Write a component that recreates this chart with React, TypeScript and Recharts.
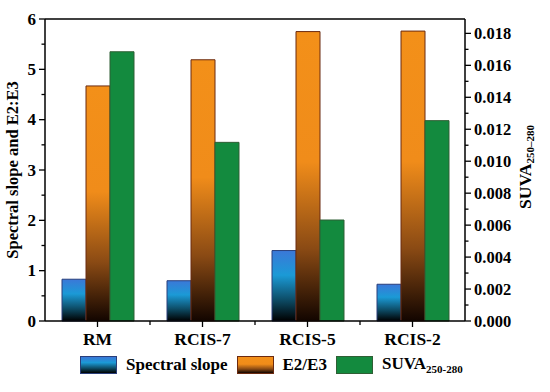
import { BarChart, Bar, XAxis, YAxis, ReferenceLine, Legend } from 'recharts';

const categories = ['RM', 'RCIS-7', 'RCIS-5', 'RCIS-2'];
const spectralSlope = [0.83, 0.8, 1.4, 0.73];
const e2e3 = [4.67, 5.19, 5.75, 5.76];
const suva = [0.01685, 0.01118, 0.00632, 0.01254];

const leftTicks = [0, 0.5, 1, 1.5, 2, 2.5, 3, 3.5, 4, 4.5, 5, 5.5, 6];
const rightTicks = [
  0, 0.001, 0.002, 0.003, 0.004, 0.005, 0.006, 0.007, 0.008, 0.009, 0.01, 0.011, 0.012, 0.013, 0.014,
  0.015, 0.016, 0.017, 0.018,
];

const FONT = "'Liberation Serif', 'Times New Roman', serif";
const TS = 6;
const TM = 3;

const data = categories.map((name, i) => ({
  name,
  slope: spectralSlope[i],
  e2e3: e2e3[i],
  suva: suva[i],
}));

const legendItems = [
  { key: 'slope', label: 'Spectral slope', bg: 'linear-gradient(#3b78d8, #1b9ad6 35%, #0d4c66 70%, #000)', border: '#2a3f7a' },
  { key: 'e2e3', label: 'E2/E3', bg: 'linear-gradient(#f39019, #f08c1a 45%, #8a4a14 75%, #120500)', border: '#6b2a10' },
  { key: 'suva', label: 'SUVA', sub: '250-280', bg: '#138a3e', border: '#2f5f35' },
];

const LeftTick = (p: any) => {
  const major = p.index % 2 === 0;
  const ax = p.x + TS + TM;
  return (
    <g>
      <line x1={ax} x2={ax - (major ? TS : 3.5)} y1={p.y} y2={p.y} stroke="#000" strokeWidth={1.3} />
      {major && (
        <text x={p.x} y={p.y} dy={5.5} textAnchor="end" fontFamily={FONT} fontWeight="bold" fontSize={17} fill="#000">
          {p.payload.value}
        </text>
      )}
    </g>
  );
};

const RightTick = (p: any) => {
  const major = p.index % 2 === 0;
  const ax = p.x - TS - TM;
  return (
    <g>
      <line x1={ax} x2={ax + (major ? TS : 3.5)} y1={p.y} y2={p.y} stroke="#000" strokeWidth={1.3} />
      {major && (
        <text x={p.x} y={p.y} dy={5.5} textAnchor="start" fontFamily={FONT} fontWeight="bold" fontSize={16.5} fill="#000">
          {Number(p.payload.value).toFixed(3)}
        </text>
      )}
    </g>
  );
};

const BottomTick = (p: any) => {
  const ay = p.y - TS - TM;
  const band = p.width && p.visibleTicksCount ? p.width / p.visibleTicksCount : 0;
  const last = p.index === p.visibleTicksCount - 1;
  return (
    <g>
      <line x1={p.x} x2={p.x} y1={ay} y2={ay + TS} stroke="#000" strokeWidth={1.3} />
      {band > 0 && !last && (
        <line x1={p.x + band / 2} x2={p.x + band / 2} y1={ay} y2={ay + 4} stroke="#000" strokeWidth={1.3} />
      )}
      <text x={p.x} y={p.y} dy={15} textAnchor="middle" fontFamily={FONT} fontWeight="bold" fontSize={17.5} fill="#000">
        {p.payload.value}
      </text>
    </g>
  );
};

const LeftLabel = ({ viewBox }: any) => {
  const cx = viewBox.x + 12;
  const cy = viewBox.y + viewBox.height / 2;
  return (
    <text x={cx} y={cy} transform={`rotate(-90 ${cx} ${cy})`} textAnchor="middle" dominantBaseline="central"
      fontFamily={FONT} fontWeight="bold" fontSize={16.5} fill="#000">
      Spectral slope and E2:E3
    </text>
  );
};

const RightLabel = ({ viewBox }: any) => {
  const cx = viewBox.x + 60;
  const cy = viewBox.y + viewBox.height / 2 - 3;
  return (
    <text x={cx} y={cy} transform={`rotate(-90 ${cx} ${cy})`} textAnchor="middle" dominantBaseline="central"
      fontFamily={FONT} fontWeight="bold" fontSize={17.5} fill="#000">
      SUVA
      <tspan fontSize={11} dy={5}>250–280</tspan>
    </text>
  );
};

const LegendContent = () => (
  <div style={{ display: 'flex', alignItems: 'center', height: 24, paddingLeft: 80, fontFamily: FONT, fontWeight: 'bold', fontSize: 17, color: '#000' }}>
    {legendItems.map((it) => (
      <div key={it.key} style={{ display: 'flex', alignItems: 'center', marginRight: 9 }}>
        <div style={{ width: 35, height: 16, background: it.bg, border: `1px solid ${it.border}`, marginRight: 9 }} />
        <span>
          {it.label}
          {it.sub && <sub style={{ fontSize: 11 }}>{it.sub}</sub>}
        </span>
      </div>
    ))}
  </div>
);

export default function App() {
  return (
    <div style={{ position: 'absolute', left: 0, top: 0, background: '#fff' }}>
      <BarChart width={550} height={392} data={data} barSize={24} barGap={0}
        margin={{ top: 19, right: 0, left: 0, bottom: 15 }}>
        <defs>
          <linearGradient id="gradBlue" x1="0" y1="0" x2="0" y2="1">
            <stop offset="0%" stopColor="#3b78d8" />
            <stop offset="35%" stopColor="#1b9ad6" />
            <stop offset="70%" stopColor="#0d4c66" />
            <stop offset="100%" stopColor="#000000" />
          </linearGradient>
          <linearGradient id="gradOrange" x1="0" y1="0" x2="0" y2="1">
            <stop offset="0%" stopColor="#f39019" />
            <stop offset="45%" stopColor="#f08c1a" />
            <stop offset="75%" stopColor="#8a4a14" />
            <stop offset="100%" stopColor="#120500" />
          </linearGradient>
        </defs>
        <XAxis dataKey="name" height={32} interval={0} tickSize={TS} tickMargin={TM} tickLine={false}
          axisLine={{ stroke: '#000', strokeWidth: 1.5 }} tick={<BottomTick />} />
        <YAxis yAxisId="left" orientation="left" width={45} domain={[0, 6]} ticks={leftTicks} interval={0}
          tickSize={TS} tickMargin={TM} tickLine={false} axisLine={{ stroke: '#000', strokeWidth: 1.5 }}
          tick={<LeftTick />} label={<LeftLabel />} />
        <YAxis yAxisId="right" orientation="right" width={85} domain={[0, 0.0189]} ticks={rightTicks} interval={0}
          tickSize={TS} tickMargin={TM} tickLine={false} axisLine={{ stroke: '#000', strokeWidth: 1.5 }}
          tick={<RightTick />} label={<RightLabel />} />
        <ReferenceLine yAxisId="left" y={6} stroke="#000" strokeWidth={1.5} />
        <Legend verticalAlign="bottom" height={24} content={<LegendContent />} wrapperStyle={{ left: 0, width: 550 }} />
        <Bar yAxisId="left" dataKey="slope" fill="url(#gradBlue)" stroke="#2a3f7a" strokeWidth={1} isAnimationActive={false} />
        <Bar yAxisId="left" dataKey="e2e3" fill="url(#gradOrange)" stroke="#6b2a10" strokeWidth={1} isAnimationActive={false} />
        <Bar yAxisId="right" dataKey="suva" fill="#138a3e" stroke="#2f5f35" strokeWidth={1} isAnimationActive={false} />
      </BarChart>
    </div>
  );
}
